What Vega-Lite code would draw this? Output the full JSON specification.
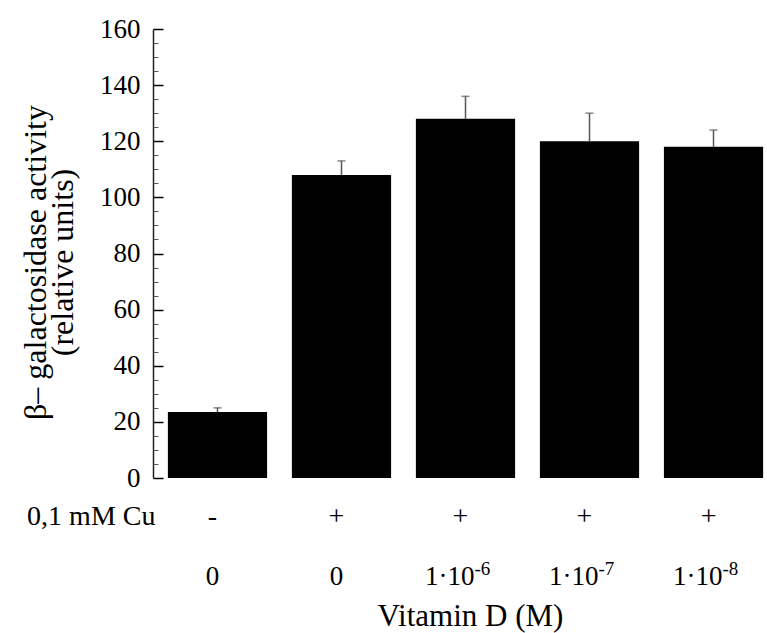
{
  "$schema": "https://vega.github.io/schema/vega-lite/v6.json",
  "width": 625,
  "height": 449,
  "autosize": "none",
  "padding": {"left": 153, "top": 29, "right": 0, "bottom": 155},
  "background": "white",
  "config": {"view": {"stroke": null}, "font": "Liberation Serif"},
  "datasets": {
    "bars": [
      {"g": "Control", "cu": "-", "v": 23.5, "hi": 25, "base": "0", "sup": ""},
      {"g": "Cu", "cu": "+", "v": 108, "hi": 113, "base": "0", "sup": ""},
      {"g": "Cu + VitD 1e-6", "cu": "+", "v": 128, "hi": 136, "base": "1·10", "sup": "-6"},
      {"g": "Cu + VitD 1e-7", "cu": "+", "v": 120, "hi": 130, "base": "1·10", "sup": "-7"},
      {"g": "Cu + VitD 1e-8", "cu": "+", "v": 118, "hi": 124, "base": "1·10", "sup": "-8"}
    ],
    "rowlabel": [{"g": "Control", "label": "0,1 mM Cu"}],
    "xtitle": [{"g": "Cu + VitD 1e-6", "label": "Vitamin D (M)"}]
  },
  "resolve": {"axis": {"y": "independent"}},
  "layer": [
    {
      "data": {"name": "bars"},
      "mark": {"type": "bar", "color": "#000000"},
      "encoding": {
        "x": {
          "field": "g", "type": "nominal", "sort": null,
          "scale": {"paddingInner": 0.2, "paddingOuter": 0.12},
          "axis": {
            "labels": false, "ticks": false, "domain": true, "domainColor": "#222222", "domainWidth": 1.5,
            "title": null
          }
        },
        "y": {
          "field": "v", "type": "quantitative",
          "scale": {"domain": [0, 160], "nice": false},
          "axis": {
            "orient": "left", "values": [0, 20, 40, 60, 80, 100, 120, 140, 160],
            "tickSize": -10, "tickColor": "#000000", "tickWidth": 1.5,
            "labelPadding": 23, "labelFontSize": 27, "labelColor": "#000000", "labelFont": "Liberation Serif",
            "domain": true, "domainColor": "#222222", "domainWidth": 1.5, "grid": false,
            "title": ["β– galactosidase activity", "(relative units)"],
            "titleFontSize": 32, "titleFontWeight": "normal", "titleColor": "#000000",
            "titleLineHeight": 27, "titlePadding": 20, "titleFont": "Liberation Serif", "titleY": 233
          }
        }
      }
    },
    {
      "data": {"name": "bars"},
      "mark": {"type": "rule", "color": "#555555", "strokeWidth": 1.5},
      "encoding": {
        "x": {"field": "g", "type": "nominal", "sort": null, "axis": null},
        "y": {
          "field": "v", "type": "quantitative",
          "axis": {
            "orient": "left",
            "values": [5, 10, 15, 25, 30, 35, 45, 50, 55, 65, 70, 75, 85, 90, 95, 105, 110, 115, 125, 130, 135, 145, 150, 155],
            "tickSize": -5, "tickColor": "#555555", "tickWidth": 1,
            "labels": false, "domain": false, "grid": false, "title": null
          }
        },
        "y2": {"field": "hi"}
      }
    },
    {
      "data": {"name": "bars"},
      "mark": {"type": "tick", "color": "#555555", "thickness": 1.5, "size": 8},
      "encoding": {
        "x": {"field": "g", "type": "nominal", "sort": null, "axis": null},
        "y": {"field": "hi", "type": "quantitative", "axis": null}
      }
    },
    {
      "data": {"name": "bars"},
      "mark": {"type": "text", "fontSize": 28, "baseline": "alphabetic", "align": "center", "dx": -5, "color": "#000000"},
      "encoding": {
        "x": {"field": "g", "type": "nominal", "sort": null, "axis": null},
        "y": {"datum": -16.75, "type": "quantitative", "axis": null},
        "text": {"field": "cu"}
      }
    },
    {
      "data": {"name": "rowlabel"},
      "mark": {"type": "text", "fontSize": 28, "baseline": "alphabetic", "align": "right", "dx": -62, "color": "#000000"},
      "encoding": {
        "x": {"field": "g", "type": "nominal", "sort": null, "axis": null},
        "y": {"datum": -16.75, "type": "quantitative", "axis": null},
        "text": {"field": "label"}
      }
    },
    {
      "data": {"name": "bars"},
      "transform": [{"filter": "datum.sup == ''"}],
      "mark": {"type": "text", "fontSize": 27, "baseline": "alphabetic", "align": "center", "dx": -5, "color": "#000000"},
      "encoding": {
        "x": {"field": "g", "type": "nominal", "sort": null, "axis": null},
        "y": {"datum": -38.1, "type": "quantitative", "axis": null},
        "text": {"field": "base"}
      }
    },
    {
      "data": {"name": "bars"},
      "transform": [{"filter": "datum.sup != ''"}],
      "mark": {"type": "text", "fontSize": 27, "baseline": "alphabetic", "align": "right", "dx": 9, "color": "#000000"},
      "encoding": {
        "x": {"field": "g", "type": "nominal", "sort": null, "axis": null},
        "y": {"datum": -38.1, "type": "quantitative", "axis": null},
        "text": {"field": "base"}
      }
    },
    {
      "data": {"name": "bars"},
      "transform": [{"filter": "datum.sup != ''"}],
      "mark": {"type": "text", "fontSize": 19, "baseline": "alphabetic", "align": "left", "dx": 9, "dy": -10, "color": "#000000"},
      "encoding": {
        "x": {"field": "g", "type": "nominal", "sort": null, "axis": null},
        "y": {"datum": -38.1, "type": "quantitative", "axis": null},
        "text": {"field": "sup"}
      }
    },
    {
      "data": {"name": "xtitle"},
      "mark": {"type": "text", "fontSize": 31, "baseline": "alphabetic", "align": "center", "dx": 5, "color": "#000000"},
      "encoding": {
        "x": {"field": "g", "type": "nominal", "sort": null, "axis": null},
        "y": {"datum": -52.7, "type": "quantitative", "axis": null},
        "text": {"field": "label"}
      }
    }
  ]
}
